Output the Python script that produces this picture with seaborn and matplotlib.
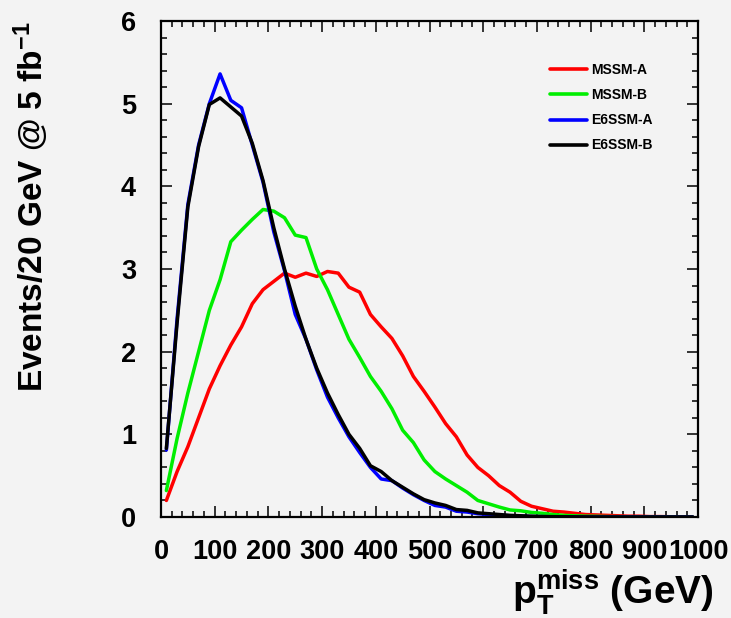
import matplotlib
matplotlib.use("Agg")
import matplotlib.pyplot as plt
import seaborn as sns
import pandas as pd
from matplotlib.ticker import MultipleLocator

# bin centres (20 GeV bins)
pt_miss = list(range(10, 1000, 20))

mssm_a = [0.20, 0.55, 0.85, 1.20, 1.55, 1.83, 2.08, 2.30, 2.58, 2.75,
          2.85, 2.95, 2.90, 2.95, 2.91, 2.97, 2.95, 2.78, 2.72, 2.45,
          2.30, 2.16, 1.95, 1.70, 1.52, 1.33, 1.13, 0.97, 0.75, 0.60,
          0.50, 0.38, 0.30, 0.19, 0.13, 0.10, 0.07, 0.06, 0.045, 0.03,
          0.025, 0.02, 0.015, 0.01, 0.01, 0.005, 0.005, 0.003, 0.002, 0.0]

mssm_b = [0.32, 0.95, 1.50, 2.00, 2.50, 2.87, 3.33, 3.47, 3.60, 3.72,
          3.70, 3.62, 3.41, 3.38, 3.00, 2.75, 2.45, 2.15, 1.93, 1.70,
          1.52, 1.31, 1.05, 0.90, 0.69, 0.55, 0.46, 0.38, 0.30, 0.20,
          0.16, 0.12, 0.085, 0.075, 0.055, 0.045, 0.03, 0.02, 0.015, 0.01,
          0.008, 0.005, 0.004, 0.003, 0.002, 0.002, 0.001, 0.001, 0.0, 0.0]

e6ssm_a = [0.81, 2.40, 3.78, 4.50, 5.00, 5.36, 5.04, 4.95, 4.50, 4.05,
           3.45, 2.98, 2.45, 2.15, 1.78, 1.45, 1.20, 0.97, 0.78, 0.60,
           0.46, 0.44, 0.35, 0.27, 0.20, 0.14, 0.12, 0.07, 0.06, 0.04,
           0.03, 0.02, 0.015, 0.01, 0.005, 0.005, 0.003, 0.002, 0.001, 0.0,
           0.0, 0.0, 0.0, 0.0, 0.0, 0.0, 0.0, 0.0, 0.0, 0.0]

e6ssm_b = [0.83, 2.35, 3.75, 4.48, 4.99, 5.07, 4.96, 4.85, 4.52, 4.07,
           3.50, 3.00, 2.55, 2.15, 1.80, 1.50, 1.24, 1.00, 0.83, 0.62,
           0.55, 0.44, 0.36, 0.28, 0.21, 0.17, 0.14, 0.09, 0.08, 0.05,
           0.04, 0.03, 0.02, 0.015, 0.01, 0.005, 0.004, 0.003, 0.002, 0.001,
           0.0, 0.0, 0.0, 0.0, 0.0, 0.0, 0.0, 0.0, 0.0, 0.0]

series_names = ["MSSM-A", "MSSM-B", "E6SSM-A", "E6SSM-B"]
series_colors = ["#ff0000", "#00ee00", "#0000ff", "#000000"]

x_ticks = [0, 100, 200, 300, 400, 500, 600, 700, 800, 900, 1000]
y_ticks = [0, 1, 2, 3, 4, 5, 6]

frames = []
for name, vals in zip(series_names, [mssm_a, mssm_b, e6ssm_a, e6ssm_b]):
    frames.append(pd.DataFrame({"pt": pt_miss, "events": vals, "model": name}))
df = pd.concat(frames, ignore_index=True)

sns.set_theme(style="ticks")
plt.rcParams["font.family"] = ["Liberation Sans", "DejaVu Sans"]
plt.rcParams["font.weight"] = "bold"
plt.rcParams["text.color"] = "black"
plt.rcParams["axes.labelcolor"] = "black"
plt.rcParams["xtick.color"] = "black"
plt.rcParams["ytick.color"] = "black"
plt.rcParams["mathtext.fontset"] = "custom"
plt.rcParams["mathtext.rm"] = "Liberation Sans:bold"
plt.rcParams["mathtext.bf"] = "Liberation Sans:bold"
plt.rcParams["mathtext.it"] = "Liberation Sans:bold"
plt.rcParams["mathtext.default"] = "rm"

bg = "#f3f3f3"
fig = plt.figure(figsize=(7.31, 6.18), dpi=100, facecolor=bg)
ax = fig.add_axes([161 / 731, 1 - 517 / 618, 537 / 731, 496 / 618])
ax.set_facecolor(bg)

sns.lineplot(data=df, x="pt", y="events", hue="model", hue_order=series_names,
             palette=dict(zip(series_names, series_colors)), linewidth=2.5,
             ax=ax, sort=True, estimator=None)

ax.set_xlim(0, 1000)
ax.set_ylim(0, 6)
ax.set_xticks(x_ticks)
ax.set_xticklabels([str(t) for t in x_ticks])
ax.set_yticks(y_ticks)
ax.set_yticklabels([str(t) for t in y_ticks])
ax.xaxis.set_minor_locator(MultipleLocator(20))
ax.yaxis.set_minor_locator(MultipleLocator(0.2))
ax.tick_params(which="both", direction="in", top=True, right=True, width=1.1,
               color="black", labelcolor="black")
ax.tick_params(which="major", length=8, labelsize=19.5)
ax.tick_params(axis="y", which="major", pad=18)
ax.tick_params(axis="x", which="major", pad=16)
ax.tick_params(which="minor", length=4)
for lab in ax.get_xticklabels() + ax.get_yticklabels():
    lab.set_fontweight("bold")
for sp in ax.spines.values():
    sp.set_linewidth(1.6)
    sp.set_color("black")
    sp.set_visible(True)

ax.set_ylabel(r"Events/20 GeV @ 5 fb$^{-1}$", fontsize=24, fontweight="bold",
              loc="top", color="black")
ax.yaxis.set_label_coords(-0.205, 1.0)
ax.set_xlabel(r"p$_{T}^{miss}$ (GeV)", fontsize=28, fontweight="bold",
              loc="right", color="black")
ax.xaxis.set_label_coords(1.03, -0.102)

handles, labels = ax.get_legend_handles_labels()
leg = ax.legend(handles, labels, loc="upper left", bbox_to_anchor=(0.724, 0.915),
                frameon=False, fontsize=10, handlelength=2.7, handletextpad=0.25,
                labelspacing=0.8, borderpad=0, borderaxespad=0)
for t in leg.get_texts():
    t.set_fontweight("bold")
    t.set_color("black")
for h in leg.get_lines():
    h.set_linewidth(2.6)

fig.savefig("out.png", dpi=100, facecolor=bg)
